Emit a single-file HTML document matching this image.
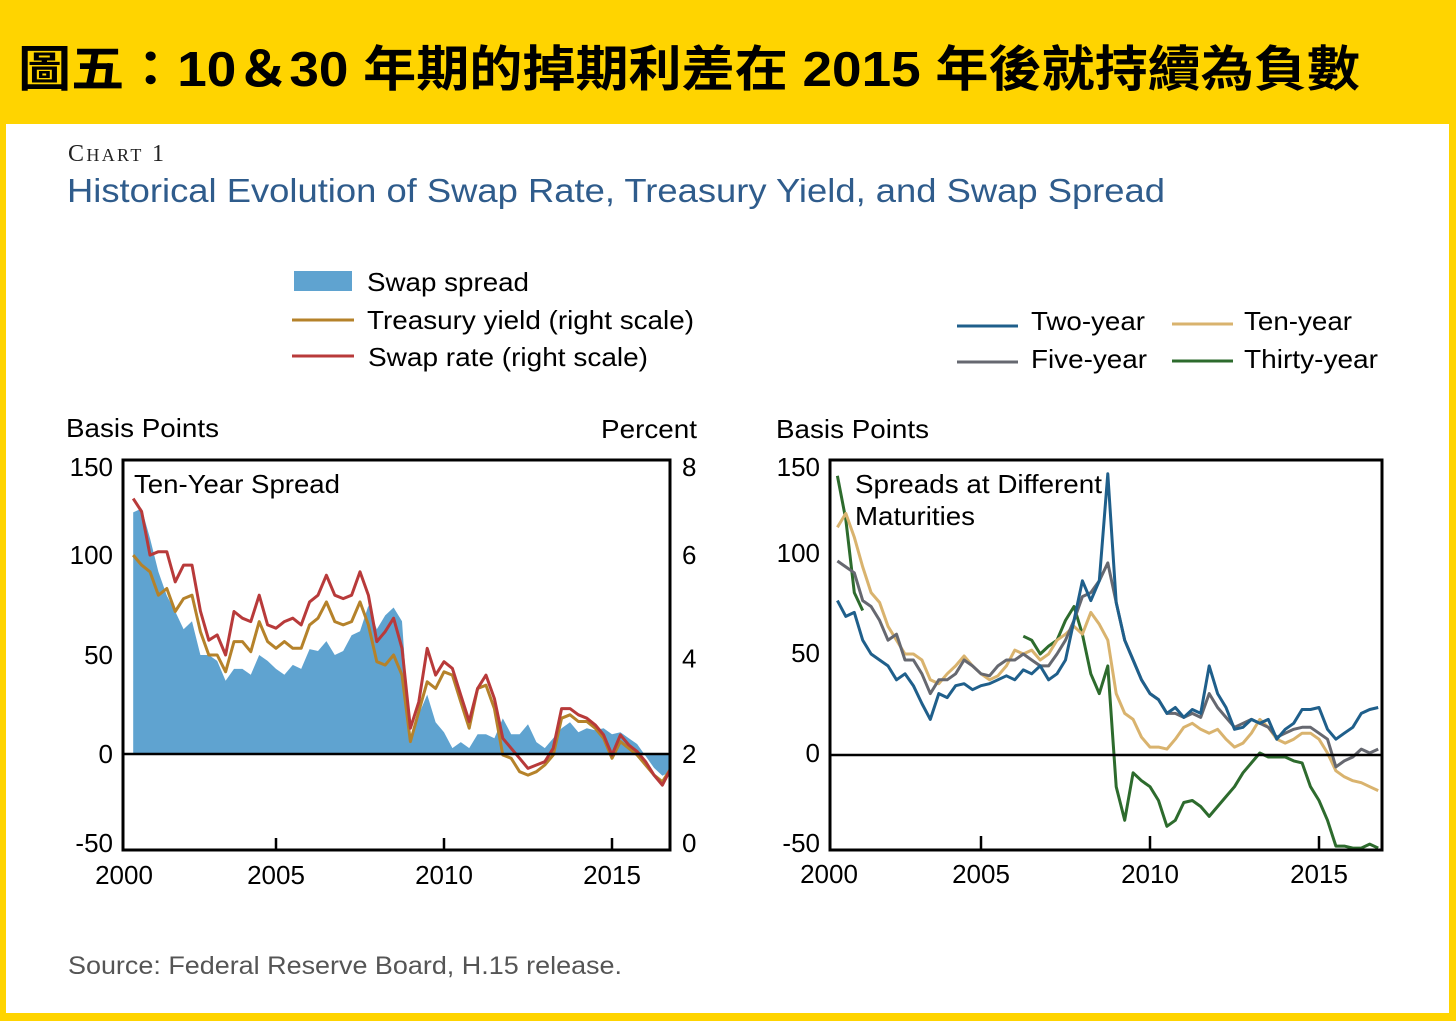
<!DOCTYPE html>
<html><head><meta charset="utf-8">
<style>
html,body{margin:0;padding:0;background:#FFD400;}
body{width:1456px;height:1021px;position:relative;overflow:hidden;font-family:"Liberation Sans","Noto Sans CJK TC",sans-serif;}
#panel{position:absolute;left:6px;top:124px;width:1443px;height:889px;background:#fff;}
svg text{font-family:"Liberation Sans","Noto Sans CJK TC",sans-serif;}
</style></head>
<body>
<div id="panel"></div>
<svg id="chart" width="1456" height="1021" style="position:absolute;left:0;top:0">
<defs>
<clipPath id="clipL"><rect x="124" y="461" width="545" height="388"/></clipPath>
<clipPath id="clipR"><rect x="831" y="461" width="550" height="388"/></clipPath>
</defs>
<text x="18" y="86" font-size="49" font-weight="bold" fill="#000" textLength="1342" lengthAdjust="spacingAndGlyphs">圖五：10＆30 年期的掉期利差在 2015 年後就持續為負數</text>
<text x="68" y="161" font-size="24" fill="#222" textLength="96" style="font-family:'Liberation Serif',serif">C<tspan font-size="18">HART</tspan> 1</text>
<text x="67" y="202" font-size="33" fill="#2F5C8C" textLength="1098" lengthAdjust="spacingAndGlyphs">Historical Evolution of Swap Rate, Treasury Yield, and Swap Spread</text>

<g>
<rect x="294" y="271" width="58" height="20" fill="#5FA3D0"/>
<text x="367" y="291" font-size="26" textLength="162" lengthAdjust="spacingAndGlyphs">Swap spread</text>
<line x1="292" y1="320" x2="354" y2="320" stroke="#B5822A" stroke-width="3"/>
<text x="367" y="329" font-size="26" textLength="327" lengthAdjust="spacingAndGlyphs">Treasury yield (right scale)</text>
<line x1="292" y1="356" x2="354" y2="356" stroke="#B83A3A" stroke-width="3"/>
<text x="368" y="366" font-size="26" textLength="280" lengthAdjust="spacingAndGlyphs">Swap rate (right scale)</text>
</g>
<g>
<line x1="957" y1="326" x2="1018" y2="326" stroke="#1F5F8B" stroke-width="3"/>
<text x="1031" y="330" font-size="26" textLength="114" lengthAdjust="spacingAndGlyphs">Two-year</text>
<line x1="957" y1="362" x2="1018" y2="362" stroke="#666870" stroke-width="3"/>
<text x="1031" y="368" font-size="26" textLength="116" lengthAdjust="spacingAndGlyphs">Five-year</text>
<line x1="1172" y1="324" x2="1233" y2="324" stroke="#D9B36E" stroke-width="3"/>
<text x="1244" y="330" font-size="26" textLength="108" lengthAdjust="spacingAndGlyphs">Ten-year</text>
<line x1="1172" y1="361" x2="1233" y2="361" stroke="#2D6B2D" stroke-width="3"/>
<text x="1244" y="368" font-size="26" textLength="134" lengthAdjust="spacingAndGlyphs">Thirty-year</text>
</g>

<text x="66" y="437" font-size="26" textLength="153" lengthAdjust="spacingAndGlyphs">Basis Points</text>
<text x="601" y="438" font-size="26" textLength="96" lengthAdjust="spacingAndGlyphs">Percent</text>
<text x="776" y="438" font-size="26" textLength="153" lengthAdjust="spacingAndGlyphs">Basis Points</text>

<g id="L"></g>
<g id="R"></g>

<text x="68" y="974" font-size="25" fill="#555" textLength="554" lengthAdjust="spacingAndGlyphs">Source: Federal Reserve Board, H.15 release.</text>
</svg>
<script>
// quarterly dates 2000.75 .. 2016.75
const dates = [];
for (let i = 0; i <= 64; i++) dates.push(2000.75 + i * 0.25);
const yTicksBP = [150, 100, 50, 0, -50];
const yTicksPct = [8, 6, 4, 2, 0];
const xTicks = [2000, 2005, 2010, 2015];

const swapSpread = [122,124,109,92,80,72,63,67,50,50,47,37,43,43,40,50,47,43,40,45,43,53,52,57,50,52,60,62,75,63,70,74,67,6,20,30,16,11,3,6,3,10,10,8,18,10,10,15,6,3,8,13,16,11,13,12,13,10,11,8,5,-1,-7,-11,-9];
const swapRate = [7.34,7.07,6.16,6.23,6.23,5.60,5.95,5.95,4.99,4.38,4.49,4.07,4.98,4.84,4.77,5.32,4.70,4.63,4.77,4.84,4.70,5.18,5.32,5.74,5.32,5.25,5.32,5.81,5.32,4.35,4.56,4.84,4.21,2.54,3.09,4.21,3.65,3.93,3.79,3.23,2.68,3.37,3.65,3.16,2.33,2.12,1.91,1.70,1.77,1.84,2.12,2.95,2.95,2.82,2.75,2.61,2.40,1.98,2.40,2.19,2.05,1.84,1.56,1.35,1.70];
const treasuryYield = [6.16,5.95,5.81,5.32,5.46,4.98,5.25,5.32,4.56,4.07,4.07,3.72,4.35,4.35,4.14,4.77,4.35,4.21,4.35,4.21,4.21,4.70,4.84,5.18,4.77,4.70,4.77,5.18,4.70,3.93,3.86,4.07,3.65,2.26,2.89,3.51,3.37,3.72,3.65,3.09,2.54,3.37,3.44,2.95,1.98,1.91,1.63,1.56,1.63,1.77,1.98,2.75,2.82,2.68,2.68,2.54,2.33,1.91,2.26,2.12,1.98,1.77,1.56,1.42,1.70];

const twoYear = [78,70,72,58,51,48,45,38,41,35,26,18,31,29,35,36,33,35,36,38,40,38,43,41,45,38,41,48,68,88,78,88,142,77,58,48,38,31,28,21,24,19,23,21,45,31,24,13,14,18,16,18,8,13,16,23,23,24,13,8,11,14,21,23,24];
const fiveYear = [98,95,92,78,75,68,58,61,48,48,41,31,38,38,41,48,45,41,40,45,48,48,51,48,45,45,51,58,68,80,82,88,97,77,58,48,38,31,28,21,21,19,21,19,31,24,19,14,16,18,16,14,9,11,13,14,14,11,8,-6,-3,-1,3,1,3];
const tenYear = [115,122,110,95,82,77,65,58,51,51,48,38,36,41,45,50,45,41,38,40,45,53,51,53,48,51,58,61,65,61,72,66,58,31,21,18,9,4,4,3,8,14,16,13,11,13,8,4,6,11,18,14,8,6,8,11,11,8,1,-8,-11,-13,-14,-16,-18];
const thirtyYear = [141,119,82,73,null,null,null,null,null,null,null,null,null,null,null,null,null,null,null,null,null,null,60,58,51,55,58,68,75,61,41,31,45,-16,-33,-9,-13,-16,-23,-36,-33,-24,-23,-26,-31,-26,-21,-16,-9,-4,1,-1,-1,-1,-3,-4,-16,-23,-33,-46,-46,-47,-47,-45,-47];

const NS = 'http://www.w3.org/2000/svg';
function mk(parent, tag, attrs) {
  const e = document.createElementNS(NS, tag);
  for (const k in attrs) e.setAttribute(k, attrs[k]);
  parent.appendChild(e);
  return e;
}
// axis functions
const xL = d => 276 + (d - 2005) * 33.6;
const yLbp = v => 754 - v * 1.98;
const yLpct = p => 849.7 - p * 47.83;
const xR = d => 981 + (d - 2005) * 33.8;
const yRbp = v => 755 - v * 1.98;

function linePath(xs, vals, xf, yf) {
  let s = '', pen = false;
  vals.forEach((v, i) => {
    if (v === null) { pen = false; return; }
    s += (pen ? 'L' : 'M') + xf(xs[i]).toFixed(1) + ',' + yf(v).toFixed(1);
    pen = true;
  });
  return s;
}

// LEFT chart
const L = document.getElementById('L');
const gL = mk(L, 'g', {'clip-path': 'url(#clipL)'});


let area = 'M' + xL(dates[0]).toFixed(1) + ',' + yLbp(0);
swapSpread.forEach((v, i) => { area += 'L' + xL(dates[i]).toFixed(1) + ',' + yLbp(v).toFixed(1); });
area += 'L' + xL(dates[dates.length - 1]).toFixed(1) + ',' + yLbp(0) + 'Z';
const ar = mk(gL, 'path', {d: area, fill: '#5FA3D0'});


const tl = mk(gL, 'path', {d: linePath(dates, treasuryYield, xL, yLpct), fill: 'none', stroke: '#B5822A', 'stroke-width': 3, 'stroke-linejoin': 'round'});


const sl = mk(gL, 'path', {d: linePath(dates, swapRate, xL, yLpct), fill: 'none', stroke: '#B83A3A', 'stroke-width': 3, 'stroke-linejoin': 'round'});


const z1 = mk(L, 'line', {x1: 123, x2: 670, y1: yLbp(0), y2: yLbp(0), stroke: '#000', 'stroke-width': 2.5});


const b1 = mk(L, 'rect', {x: 123, y: 460, width: 547, height: 390, fill: 'none', stroke: '#000', 'stroke-width': 3});


const t1 = mk(L, 'text', {x: 134, y: 493, 'font-size': 26, textLength: 206, lengthAdjust: 'spacingAndGlyphs'});
t1.textContent = 'Ten-Year Spread';


const bpLabelYL = [467, 555, 655, 754, 843];
yTicksBP.forEach((v, i) => {
  const t = mk(L, 'text', {x: 113, y: bpLabelYL[i] + 9, 'font-size': 26, 'text-anchor': 'end'});
  t.textContent = v;
  
  
});
yTicksPct.forEach(p => {
  const yy = p === 8 ? 467 : (p === 6 ? 555 : (p === 0 ? 843 : yLpct(p)));
  const t = mk(L, 'text', {x: 682, y: yy + 9, 'font-size': 26});
  t.textContent = p;
  
  
});
xTicks.forEach(d => {
  const xx = d === 2000 ? 124 : xL(d);
  if (d !== 2000) {
    const tk = mk(L, 'line', {x1: xx, x2: xx, y1: 850, y2: 838, stroke: '#000', 'stroke-width': 2.5});
    
    
  }
  const t = mk(L, 'text', {x: xx, y: 884, 'font-size': 26, 'text-anchor': 'middle'});
  t.textContent = d;
  
  
});

// RIGHT chart
const R = document.getElementById('R');
const gR = mk(R, 'g', {'clip-path': 'url(#clipR)'});


const series = [
  [thirtyYear, '#2D6B2D', 'thirty-year-line'],
  [tenYear, '#D9B36E', 'ten-year-line'],
  [fiveYear, '#666870', 'five-year-line'],
  [twoYear, '#1F5F8B', 'two-year-line']
];
series.forEach(s => {
  const p = mk(gR, 'path', {d: linePath(dates, s[0], xR, yRbp), fill: 'none', stroke: s[1], 'stroke-width': 3, 'stroke-linejoin': 'round'});
  
  
});
const z2 = mk(R, 'line', {x1: 830, x2: 1382, y1: yRbp(0), y2: yRbp(0), stroke: '#000', 'stroke-width': 2.5});


const b2 = mk(R, 'rect', {x: 830, y: 460, width: 552, height: 390, fill: 'none', stroke: '#000', 'stroke-width': 3});


const t2 = mk(R, 'text', {x: 855, y: 493, 'font-size': 26, textLength: 247, lengthAdjust: 'spacingAndGlyphs'});
t2.textContent = 'Spreads at Different';


const t3 = mk(R, 'text', {x: 855, y: 525, 'font-size': 26, textLength: 120, lengthAdjust: 'spacingAndGlyphs'});
t3.textContent = 'Maturities';


const bpLabelYR = [467, 553, 653, 753, 843];
yTicksBP.forEach((v, i) => {
  const t = mk(R, 'text', {x: 820, y: bpLabelYR[i] + 9, 'font-size': 26, 'text-anchor': 'end'});
  t.textContent = v;
  
  
});
xTicks.forEach(d => {
  const xx = d === 2000 ? 829 : xR(d);
  if (d !== 2000) {
    const tk = mk(R, 'line', {x1: xx, x2: xx, y1: 850, y2: 836, stroke: '#000', 'stroke-width': 2.5});
    
    
  }
  const t = mk(R, 'text', {x: xx, y: 883, 'font-size': 26, 'text-anchor': 'middle'});
  t.textContent = d;
  
  
});
</script>
</body></html>
